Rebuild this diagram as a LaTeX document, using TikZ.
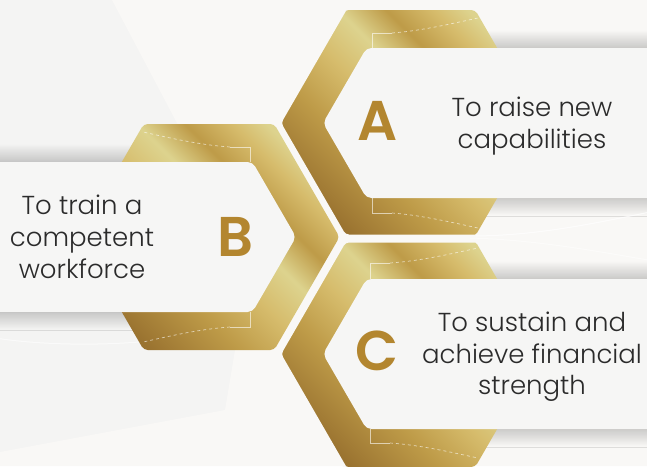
\documentclass[tikz,border=0pt]{standalone}
\usepackage{fontspec}
\setmainfont{Poppins}
\newfontfamily\lightfont{Poppins Light}
\newfontfamily\boldfont{Poppins SemiBold}
\usetikzlibrary{shadows.blur}
\definecolor{bg}{HTML}{F4F4F3}
\definecolor{warm}{HTML}{F9F8F6}
\definecolor{card}{HTML}{F6F6F5}
\definecolor{gd}{HTML}{9A7330}
\definecolor{gm}{HTML}{BE9B48}
\definecolor{gl}{HTML}{D6BC6C}
\definecolor{gs}{HTML}{DDD38E}
\definecolor{letterc}{HTML}{B3862F}
\definecolor{textc}{HTML}{2B2B2B}
\pgfdeclarehorizontalshading{goldsh}{100bp}{color(0bp)=(gd); color(25bp)=(gd); color(38bp)=(gm); color(48bp)=(gl); color(56bp)=(gs); color(63bp)=(gm); color(70bp)=(gl); color(75bp)=(gs); color(100bp)=(gs)}
\tikzset{
  goldring/.style={shading=goldsh, shading angle=45, rounded corners=4pt},
  gap/.style={draw=warm, line width=3pt, rounded corners=4pt},
  cardshape/.style={fill=card, rounded corners=5pt},
  cardshadow/.style={blur shadow={shadow xshift=0pt, shadow yshift=0pt, shadow blur radius=18pt, shadow opacity=38, shadow blur steps=24}},
  panel/.style={draw=white, line width=0.7pt, opacity=0.6},
  letter/.style={text=letterc, font=\boldfont\fontsize{56}{56}\selectfont, inner sep=0pt},
  txt/.style={text=textc, font=\lightfont\fontsize{26}{31.7}\selectfont, align=center, inner sep=0pt}
}
\newcommand{\hexat}[2]{[shift={(#1,#2)}] (-130.5,0) -- (-65.25,-113) -- (65.25,-113) -- (130.5,0) -- (65.25,113) -- (-65.25,113) -- cycle}
\begin{document}
\begin{tikzpicture}[x=1pt,y=-1pt]
\useasboundingbox (0,0) rectangle (647,466);
% background
\fill[bg] (0,0) rectangle (647,466);
\fill[warm] (112,0) -- (647,0) -- (647,466) -- (0,466) -- (0,452) -- (225,410) -- (235,350) -- (178,125) -- cycle;
% shadows of the cards
\path[cardshadow] (0,162) -- (252.5,162) -- (296,237) -- (252.5,312) -- (0,312) -- cycle;
\path[cardshadow] (420,48) rectangle (700,198);
\path[cardshadow] (420,279) rectangle (700,429);
% faint highlights in background
\draw[white, line width=1pt, opacity=0.7] (470,236) .. controls (540,236) and (600,222) .. (660,210);
\draw[white, line width=1pt, opacity=0.5] (470,238) .. controls (540,240) and (600,252) .. (660,262);
\draw[white, line width=1pt, opacity=0.6] (-5,338) .. controls (40,345) and (100,346) .. (150,341);
% gold rings
\shade[goldring] \hexat{209}{237};
\shade[goldring] \hexat{410}{123};
\draw[gap] [shift={(410,123)}] (-65.25,-113) -- (-130.5,0) -- (-65.25,113) -- (65.25,113);
\shade[goldring] \hexat{410}{354};
\draw[gap] [shift={(410,354)}] (-65.25,113) -- (-130.5,0) -- (-65.25,-113) -- (65.25,-113);
% panel lines
\draw[panel] (372,48) -- (372,33) -- (392,33);
\draw[panel, dashed] (392,33) .. controls (420,31) and (450,24) .. (478,18);
\draw[panel] (372,198) -- (372,213) -- (392,213);
\draw[panel, dashed] (392,213) .. controls (420,215) and (450,222) .. (478,228);
\draw[panel] (370,279) -- (370,263) -- (390,263);
\draw[panel, dashed] (390,263) .. controls (420,261) and (450,254) .. (478,248);
\draw[panel] (370,429) -- (370,443) -- (390,443);
\draw[panel, dashed] (390,443) .. controls (420,445) and (450,452) .. (478,458);
\draw[panel] (250,162) -- (250,147) -- (230,147);
\draw[panel, dashed] (230,147) .. controls (200,145) and (170,138) .. (143,132);
\draw[panel] (250,312) -- (250,327) -- (230,327);
\draw[panel, dashed] (230,327) .. controls (200,329) and (170,336) .. (143,342);
% cards
\fill[cardshape] (323,123) -- (366.5,48) -- (660,48) -- (660,198) -- (366.5,198) -- cycle;
\fill[cardshape] (-10,162) -- (252.5,162) -- (296,237) -- (252.5,312) -- (-10,312) -- cycle;
\fill[cardshape] (323,354) -- (366.5,279) -- (660,279) -- (660,429) -- (366.5,429) -- cycle;
% letters
\node[letter] (la) at (378,121) {A};
\node[letter] (lb) at (236,237) {B};
\node[letter] (lc) at (377,351) {C};
% texts
\node[txt] (ta) at (532,126) {To raise new\\capabilities};
\node[txt] (tb) at (82,237) {To train a\\competent\\workforce};
\node[txt] (tc) at (532,357) {To sustain and\\achieve financial\\strength};
\end{tikzpicture}
\end{document}
